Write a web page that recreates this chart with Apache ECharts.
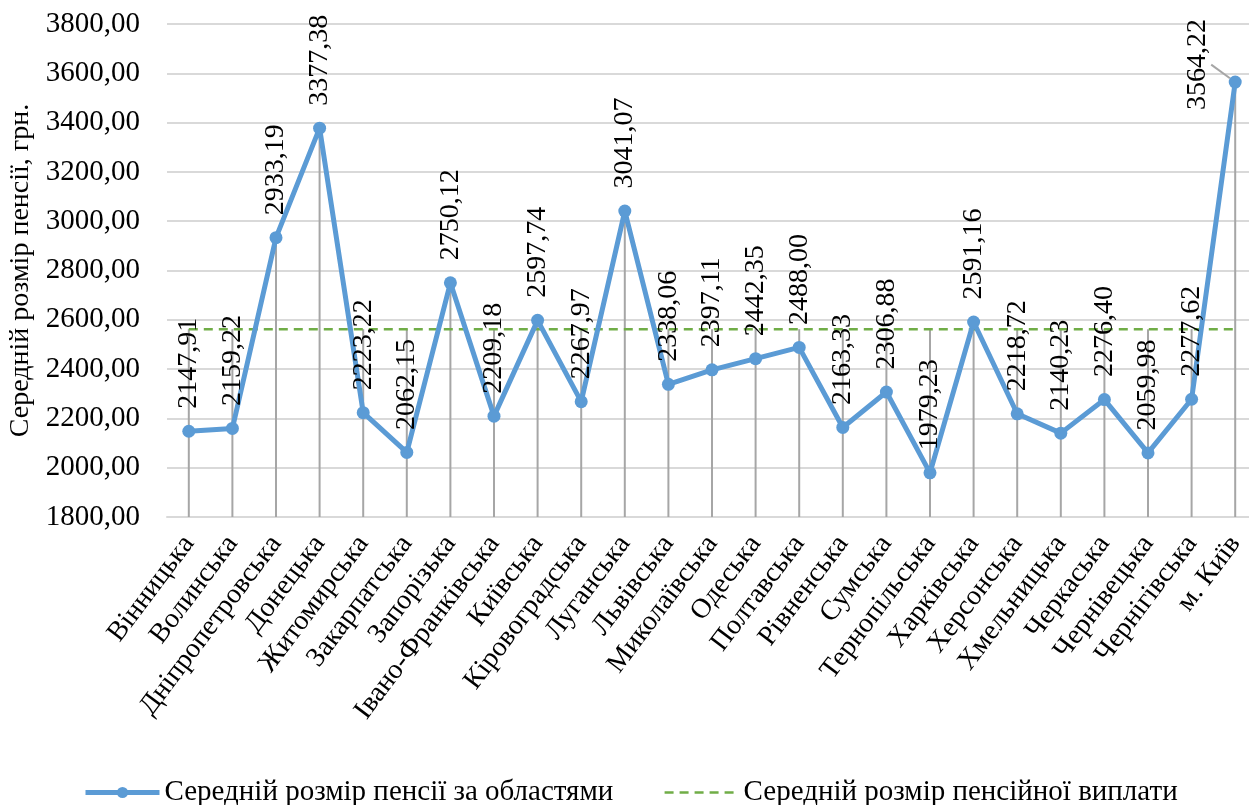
<!DOCTYPE html>
<html>
<head>
<meta charset="utf-8">
<script src="https://cdn.jsdelivr.net/npm/echarts@6/dist/echarts.min.js"></script>
<style>
  html, body { margin: 0; padding: 0; background: #fff; }
  #chart { width: 1249px; height: 805px; }
</style>
</head>
<body>
<div id="chart"></div>
<script>
// Regions (oblasts) of Ukraine
const regions = [
  'Вінницька', 'Волинська', 'Дніпропетровська', 'Донецька', 'Житомирська',
  'Закарпатська', 'Запорізька', 'Івано-Франківська', 'Київська', 'Кіровоградська',
  'Луганська', 'Львівська', 'Миколаївська', 'Одеська', 'Полтавська',
  'Рівненська', 'Сумська', 'Тернопільська', 'Харківська', 'Херсонська',
  'Хмельницька', 'Черкаська', 'Чернівецька', 'Чернігівська', 'м. Київ'
];

// Average pension by region, UAH
const pensionByRegion = [
  2147.91, 2159.22, 2933.19, 3377.38, 2223.22,
  2062.15, 2750.12, 2209.18, 2597.74, 2267.97,
  3041.07, 2338.06, 2397.11, 2442.35, 2488.00,
  2163.33, 2306.88, 1979.23, 2591.16, 2218.72,
  2140.23, 2276.40, 2059.98, 2277.62, 3564.22
];

// Average pension payment across the country, UAH
const averagePayment = 2562;

// Value axis range
const yMin = 1800;
const yMax = 3800;
const yStep = 200;

const seriesNames = ['Середній розмір пенсії за областями', 'Середній розмір пенсійної виплати'];
const FONT = "'Liberation Serif', 'Times New Roman', serif";
const BLUE = '#5b9bd5';
const GREEN = '#70ad47';
const GREY = '#a6a6a6';

const fmt = v => v.toFixed(2).replace('.', ',');
const lastIndex = pensionByRegion.length - 1;

const chart = echarts.init(document.getElementById('chart'));

chart.setOption({
  backgroundColor: '#ffffff',
  animation: false,
  textStyle: { fontFamily: FONT, color: '#000' },
  grid: { left: 167, top: 24, width: 1090, height: 493, outerBoundsMode: 'none', containLabel: false },
  legend: {
    left: 78,
    top: 773,
    itemWidth: 74,
    itemHeight: 14,
    itemGap: 50,
    textStyle: { fontFamily: FONT, fontSize: 29, color: '#000' },
    data: [
      { name: seriesNames[0], lineStyle: { width: 5, color: BLUE }, itemStyle: { color: BLUE } },
      { name: seriesNames[1], lineStyle: { width: 2.5, color: GREEN, type: [9, 6] }, itemStyle: { opacity: 0 } }
    ]
  },
  xAxis: {
    type: 'category',
    data: regions,
    boundaryGap: true,
    axisTick: { show: false },
    axisLine: { show: true, lineStyle: { color: '#d9d9d9', width: 2 } },
    axisLabel: {
      interval: 0,
      rotate: 53,
      margin: 22,
      fontFamily: FONT,
      fontSize: 28,
      color: '#000'
    }
  },
  yAxis: {
    type: 'value',
    min: yMin,
    max: yMax,
    interval: yStep,
    name: 'Середній розмір пенсії, грн.',
    nameLocation: 'middle',
    nameRotate: 90,
    nameGap: 124,
    nameTextStyle: { fontFamily: FONT, fontSize: 28, color: '#000' },
    axisLine: { show: false },
    axisTick: { show: false },
    splitLine: { lineStyle: { color: '#d9d9d9', width: 2 } },
    axisLabel: {
      margin: 27,
      fontFamily: FONT,
      fontSize: 29,
      color: '#000',
      formatter: v => fmt(v)
    }
  },
  series: [
    {
      // drop lines from the highest mark in each category down to the axis
      type: 'custom',
      silent: true,
      z: 1,
      data: pensionByRegion.map((v, i) => [i, v]),
      renderItem: (params, api) => {
        const top = Math.max(api.value(1), averagePayment);
        const p1 = api.coord([api.value(0), top]);
        const p2 = api.coord([api.value(0), yMin]);
        return {
          type: 'line',
          shape: { x1: p1[0], y1: p1[1], x2: p2[0], y2: p2[1] },
          style: { stroke: GREY, lineWidth: 2 }
        };
      }
    },
    {
      name: seriesNames[1],
      type: 'line',
      z: 2,
      data: regions.map(() => averagePayment),
      symbol: 'none',
      lineStyle: { color: GREEN, width: 2.5, type: [9, 6] },
      itemStyle: { color: GREEN }
    },
    {
      name: seriesNames[0],
      type: 'line',
      z: 3,
      data: pensionByRegion.map((v, i) => i === lastIndex
        ? { value: v, labelLine: { show: true } }
        : v),
      symbol: 'circle',
      symbolSize: 13,
      lineStyle: { color: BLUE, width: 5 },
      itemStyle: { color: BLUE },
      label: {
        show: true,
        position: 'top',
        distance: 16,
        rotate: 90,
        align: 'left',
        verticalAlign: 'middle',
        fontFamily: FONT,
        fontSize: 28,
        color: '#000',
        formatter: p => fmt(p.value)
      },
      labelLine: { lineStyle: { color: GREY, width: 2 } },
      // the last label sits beside its point, linked by a leader line
      labelLayout: p => {
        if (p.dataIndex !== lastIndex) return {};
        const cx = p.rect.x + p.rect.width / 2;
        const cy = p.rect.y + p.rect.height / 2;
        return { x: cx - 38, y: cy + 28 };
      }
    }
  ]
});
</script>
</body>
</html>
